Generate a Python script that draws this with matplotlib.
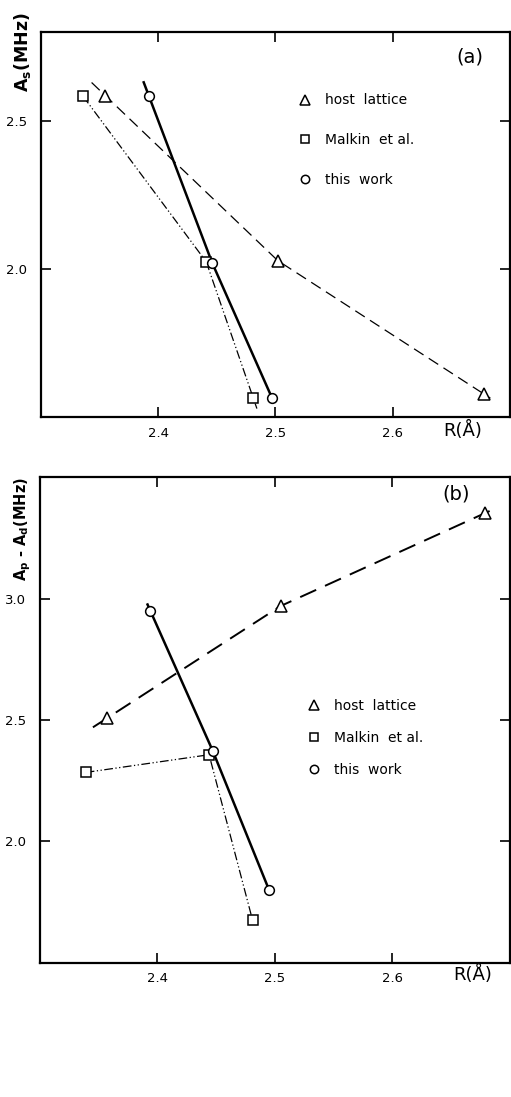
import matplotlib.pyplot as plt
from matplotlib.lines import Line2D
import numpy as np

# panel (a): A_s vs R
host_a_r = [2.355, 2.502, 2.678]
host_a_v = [2.585, 2.028, 1.577]
malkin_a_r = [2.336, 2.441, 2.481]
malkin_a_v = [2.583, 2.024, 1.565]
work_a_r = [2.392, 2.446, 2.497]
work_a_v = [2.585, 2.021, 1.565]

# panel (b): A_p - A_d vs R
host_b_r = [2.357, 2.505, 2.679]
host_b_v = [2.507, 2.970, 3.353]
malkin_b_r = [2.339, 2.444, 2.481]
malkin_b_v = [2.284, 2.357, 1.675]
work_b_r = [2.394, 2.447, 2.495]
work_b_v = [2.950, 2.374, 1.800]

x_ticks = [2.4, 2.5, 2.6]
x_labels = ['2.4', '2.5', '2.6']
legend_labels = ['host  lattice', 'Malkin  et al.', 'this  work']


def extend(x, y, a, b):
    # lines in the original run slightly past the end markers
    x = np.asarray(x, float)
    y = np.asarray(y, float)
    x0 = x[0] - a * (x[1] - x[0])
    y0 = y[0] - a * (y[1] - y[0])
    x1 = x[-1] + b * (x[-1] - x[-2])
    y1 = y[-1] + b * (y[-1] - y[-2])
    return np.r_[x0, x, x1], np.r_[y0, y, y1]


def style_axes(ax, ylim, yticks):
    ax.set_xlim(2.3, 2.7)
    ax.set_ylim(*ylim)
    ax.set_xticks(x_ticks)
    ax.set_xticklabels(x_labels)
    ax.set_yticks(yticks)
    ax.set_yticklabels(['%.1f' % t for t in yticks])
    ax.tick_params(direction='in', length=7, width=1.2, top=True, right=True,
                   labelsize=9.5)
    ax.tick_params(axis='y', pad=10)
    ax.tick_params(axis='x', pad=7)
    for s in ax.spines.values():
        s.set_linewidth(1.6)


def draw_series(ax, hr, hv, mr, mv, wr, wv, host_lw, ext):
    x, y = extend(hr, hv, *ext[0])
    ax.plot(x, y, color='k', lw=host_lw, dashes=(9, 5), zorder=2)
    x, y = extend(mr, mv, *ext[1])
    ax.plot(x, y, color='k', lw=0.9, dashes=(7, 2, 1, 2, 1, 2), zorder=2)
    x, y = extend(wr, wv, *ext[2])
    ax.plot(x, y, color='k', lw=1.8, zorder=2)
    kw = dict(ls='none', mfc='white', mec='k', mew=1.1, zorder=3)
    ax.plot(hr, hv, marker='^', ms=8, **kw)
    ax.plot(mr, mv, marker='s', ms=7, **kw)
    ax.plot(wr, wv, marker='o', ms=7, **kw)


def add_legend(ax, anchor, spacing):
    kw = dict(ls='none', mfc='white', mec='k', mew=1.1, color='k')
    handles = [Line2D([], [], marker='^', ms=7, **kw),
               Line2D([], [], marker='s', ms=6, **kw),
               Line2D([], [], marker='o', ms=6, **kw)]
    ax.legend(handles, legend_labels, loc='upper left', bbox_to_anchor=anchor,
              frameon=False, handlelength=0.8, handletextpad=1.0,
              labelspacing=spacing, fontsize=10, borderaxespad=0)


fig = plt.figure(figsize=(5.11, 10.97), dpi=100)

ax1 = fig.add_axes([0.080, 0.6199, 0.918, 0.3509])
draw_series(ax1, host_a_r, host_a_v, malkin_a_r, malkin_a_v,
            work_a_r, work_a_v, 0.9,
            [(0.08, 0.03), (0.0, 0.08), (0.08, 0.0)])
style_axes(ax1, (1.5, 2.8), [2.0, 2.5])
add_legend(ax1, (0.54, 0.855), 1.85)
ax1.text(0.915, 0.935, '(a)', transform=ax1.transAxes, fontsize=14,
         ha='center', va='center')
ax1.text(0.94, -0.034, 'R(Å)', transform=ax1.transAxes, fontsize=13,
         ha='right', va='center')
ax1.text(-0.04, 1.052, r'$\mathbf{A_s}$(MHz)', transform=ax1.transAxes,
         fontsize=12.5, fontweight='bold', rotation=90, ha='center', va='top')

ax2 = fig.add_axes([0.078, 0.1224, 0.92, 0.4425])
draw_series(ax2, host_b_r, host_b_v, malkin_b_r, malkin_b_v,
            work_b_r, work_b_v, 1.4,
            [(0.08, 0.04), (0.0, 0.0), (0.045, 0.0)])
style_axes(ax2, (1.5, 3.5), [2.0, 2.5, 3.0])
add_legend(ax2, (0.56, 0.555), 1.3)
ax2.text(0.885, 0.965, '(b)', transform=ax2.transAxes, fontsize=14,
         ha='center', va='center')
ax2.text(0.962, -0.025, 'R(Å)', transform=ax2.transAxes, fontsize=13,
         ha='right', va='center')
ax2.text(-0.036, 1.0, r'$\mathbf{A_p}$ - $\mathbf{A_d}$(MHz)',
         transform=ax2.transAxes, fontsize=10.5, fontweight='bold',
         rotation=90, ha='center', va='top')

fig.savefig('out.png', dpi=100)
